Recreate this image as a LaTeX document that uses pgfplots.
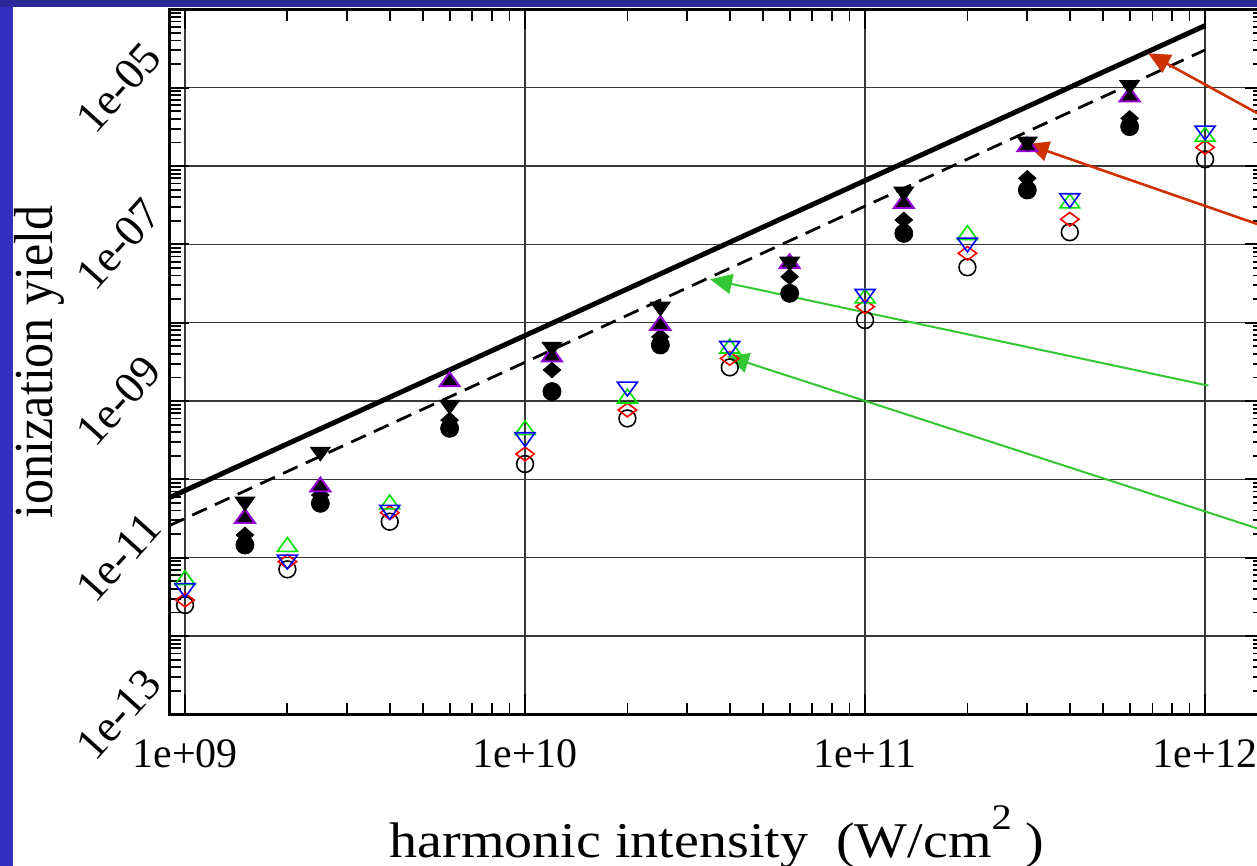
\documentclass[border=0pt]{standalone}
\usepackage{fontspec}
\setmainfont{Liberation Serif}
\usepackage{pgfplots}
\pgfplotsset{compat=1.18}
\usepackage{pgfplotstable}
\usetikzlibrary{arrows.meta}

\definecolor{slideblue}{RGB}{50,46,190}
\definecolor{slidetop}{RGB}{42,40,150}
\definecolor{gviolet}{RGB}{148,0,211}
\definecolor{ggreen}{RGB}{0,225,0}
\definecolor{arrred}{RGB}{204,51,0}
\definecolor{arrgreen}{RGB}{51,200,51}

% open symbols (x, black circle, red diamond, green triangle up, blue triangle down)
\pgfplotstableread{
x      circ      diam      tup       tdown
1e9    2.49e-12  2.88e-12  5.19e-12  4.07e-12
2e9    7.1e-12   8.9e-12   1.38e-11  9.4e-12
4e9    2.88e-11  3.75e-11  4.8e-11   4.06e-11
1e10   1.57e-10  2.11e-10  4.27e-10  3.44e-10
2e10   6.0e-10   7.68e-10  1.08e-9   1.52e-9
4e10   2.69e-9   3.5e-9    4.7e-9    5.03e-9
1e11   1.08e-8   1.6e-8    2.05e-8   2.32e-8
2e11   5.1e-8    7.69e-8   1.32e-7   1.05e-7
4e11   1.43e-7   2.09e-7   3.34e-7   3.87e-7
1e12   1.22e-6   1.73e-6   2.37e-6   2.82e-6
}\opendata

% filled symbols (x, filled circle, filled diamond, violet triangle up, black triangle down)
\pgfplotstableread{
x       circ      diam      tup       tdown
1.5e9   1.45e-11  1.95e-11  3.18e-11  5.19e-11
2.5e9   4.94e-11  6.3e-11   8.05e-11  2.25e-10
6e9     4.48e-10  5.7e-10   1.77e-9   8.9e-10
1.2e10  1.32e-9   2.49e-9   3.68e-9   4.93e-9
2.5e10  5.19e-9   6.6e-9    9.3e-9    1.6e-8
6e10    2.37e-8   3.86e-8   5.7e-8    6.0e-8
1.3e11  1.38e-7   2.05e-7   3.34e-7   4.7e-7
3e11    4.94e-7   6.97e-7   1.77e-6   2.05e-6
6e11    3.18e-6   4.06e-6   7.67e-6   1.08e-5
}\filleddata

\begin{document}
\begin{tikzpicture}
\useasboundingbox (0,0) rectangle (628.5pt,-433pt);
\clip (0,0) rectangle (628.5pt,-433pt);
\fill[white] (0,0) rectangle (628.5pt,-433pt);
\fill[slideblue] (0,0) rectangle (6.35pt,-433pt);
\fill[slidetop] (0,0) rectangle (628.5pt,-3.6pt);
\begin{axis}[
  at={(84.72pt,-357.17pt)}, anchor=south west,
  scale only axis, width=547.73pt, height=352.5pt,
  xmode=log, ymode=log,
  xmin=9e8, xmax=1.5e12, ymin=1e-13, ymax=1e-4,
  clip=false,
  axis line style={line width=1.6pt},
  tick align=inside,
  major tick length=10pt, minor tick length=5.8pt,
  every tick/.style={black, line width=0.9pt},
  grid=major,
  major grid style={black!78, line width=0.8pt},
  xtick={1e9,1e10,1e11,1e12},
  xticklabels={1e+09,1e+10,1e+11,1e+12},
  minor xtick={2e9,3e9,4e9,5e9,6e9,7e9,8e9,9e9,
               2e10,3e10,4e10,5e10,6e10,7e10,8e10,9e10,
               2e11,3e11,4e11,5e11,6e11,7e11,8e11,9e11},
  ytick={1e-13,1e-12,1e-11,1e-10,1e-9,1e-8,1e-7,1e-6,1e-5,1e-4},
  yticklabels={1e-13,,1e-11,,1e-09,,1e-07,,1e-05,},
  minor ytick={2e-13,3e-13,4e-13,5e-13,6e-13,7e-13,8e-13,9e-13,
               2e-12,3e-12,4e-12,5e-12,6e-12,7e-12,8e-12,9e-12,
               2e-11,3e-11,4e-11,5e-11,6e-11,7e-11,8e-11,9e-11,
               2e-10,3e-10,4e-10,5e-10,6e-10,7e-10,8e-10,9e-10,
               2e-9,3e-9,4e-9,5e-9,6e-9,7e-9,8e-9,9e-9,
               2e-8,3e-8,4e-8,5e-8,6e-8,7e-8,8e-8,9e-8,
               2e-7,3e-7,4e-7,5e-7,6e-7,7e-7,8e-7,9e-7,
               2e-6,3e-6,4e-6,5e-6,6e-6,7e-6,8e-6,9e-6,
               2e-5,3e-5,4e-5,5e-5,6e-5,7e-5,8e-5,9e-5},
  xticklabel style={font=\fontsize{21}{21}\selectfont, anchor=base, yshift=-26.8pt},
  yticklabel style={font=\fontsize{22.5}{22.5}\selectfont, anchor=center, xshift=-25.5pt, rotate=48},
  every axis x label/.style={at={(axis description cs:0.5,-0.2024)}, anchor=base},
  every axis y label/.style={at={(axis description cs:-0.1072,0.5)}, anchor=base, rotate=90},
  xlabel={\fontsize{25}{25}\selectfont\scalebox{1.12}[1]{harmonic intensity\ \ (W/cm\raisebox{14pt}{\fontsize{18}{18}\selectfont 2}\ )}},
  ylabel={\fontsize{25}{25}\selectfont\scalebox{1}[1.1]{ionization yield}},
]
% power-law guide lines
\addplot[black, line width=2.5pt, no marks] coordinates {(9e8,5.85e-11) (1e12,6.2e-5)};
\addplot[black, line width=1.4pt, no marks, dash pattern=on 8pt off 4.5pt] coordinates {(9e8,2.57e-11) (1e12,3.03e-5)};

% open symbols
\addplot[only marks, mark=o, mark size=4.2pt, mark options={black, line width=0.8pt}] table[x=x,y=circ]{\opendata};
\addplot[only marks, mark=diamond, mark size=3.4pt, mark options={red, line width=0.8pt, xscale=1.8}] table[x=x,y=diam]{\opendata};
\addplot[only marks, mark=triangle, mark size=4.6pt, mark options={ggreen, line width=0.8pt, xscale=1.25}] table[x=x,y=tup]{\opendata};
\addplot[only marks, mark=triangle, mark size=4.6pt, mark options={blue, line width=0.8pt, xscale=1.25, rotate=180}] table[x=x,y=tdown]{\opendata};

% filled symbols
\addplot[only marks, mark=*, mark size=4.5pt, mark options={black}] table[x=x,y=circ]{\filleddata};
\addplot[only marks, mark=diamond*, mark size=3.9pt, mark options={black, xscale=1.5}] table[x=x,y=diam]{\filleddata};
\addplot[only marks, mark=triangle*, mark size=4.6pt, mark options={draw=gviolet, fill=black, line width=1pt, xscale=1.25}] table[x=x,y=tup]{\filleddata};
\addplot[only marks, mark=triangle*, mark size=4.6pt, mark options={black, xscale=1.25, rotate=180}] table[x=x,y=tdown]{\filleddata};

% annotation arrows
\draw[arrred, line width=1.3pt, -{Triangle[length=11pt,width=10pt]}] (axis cs:1.778e12,2.79e-6) -- (axis cs:6.8e11,2.75e-5);
\draw[arrred, line width=1.3pt, -{Triangle[length=11pt,width=10pt]}] (axis cs:1.778e12,1.30e-7) -- (axis cs:2.99e11,1.91e-6);
\draw[arrgreen, line width=1pt, -{Triangle[length=11pt,width=10pt]}] (axis cs:1.023e12,1.57e-9) -- (axis cs:3.5e10,3.58e-8);
\draw[arrgreen, line width=1pt, -{Triangle[length=11pt,width=10pt]}] (axis cs:1.778e12,1.73e-11) -- (axis cs:3.92e10,3.76e-9);
\end{axis}
\end{tikzpicture}
\end{document}
